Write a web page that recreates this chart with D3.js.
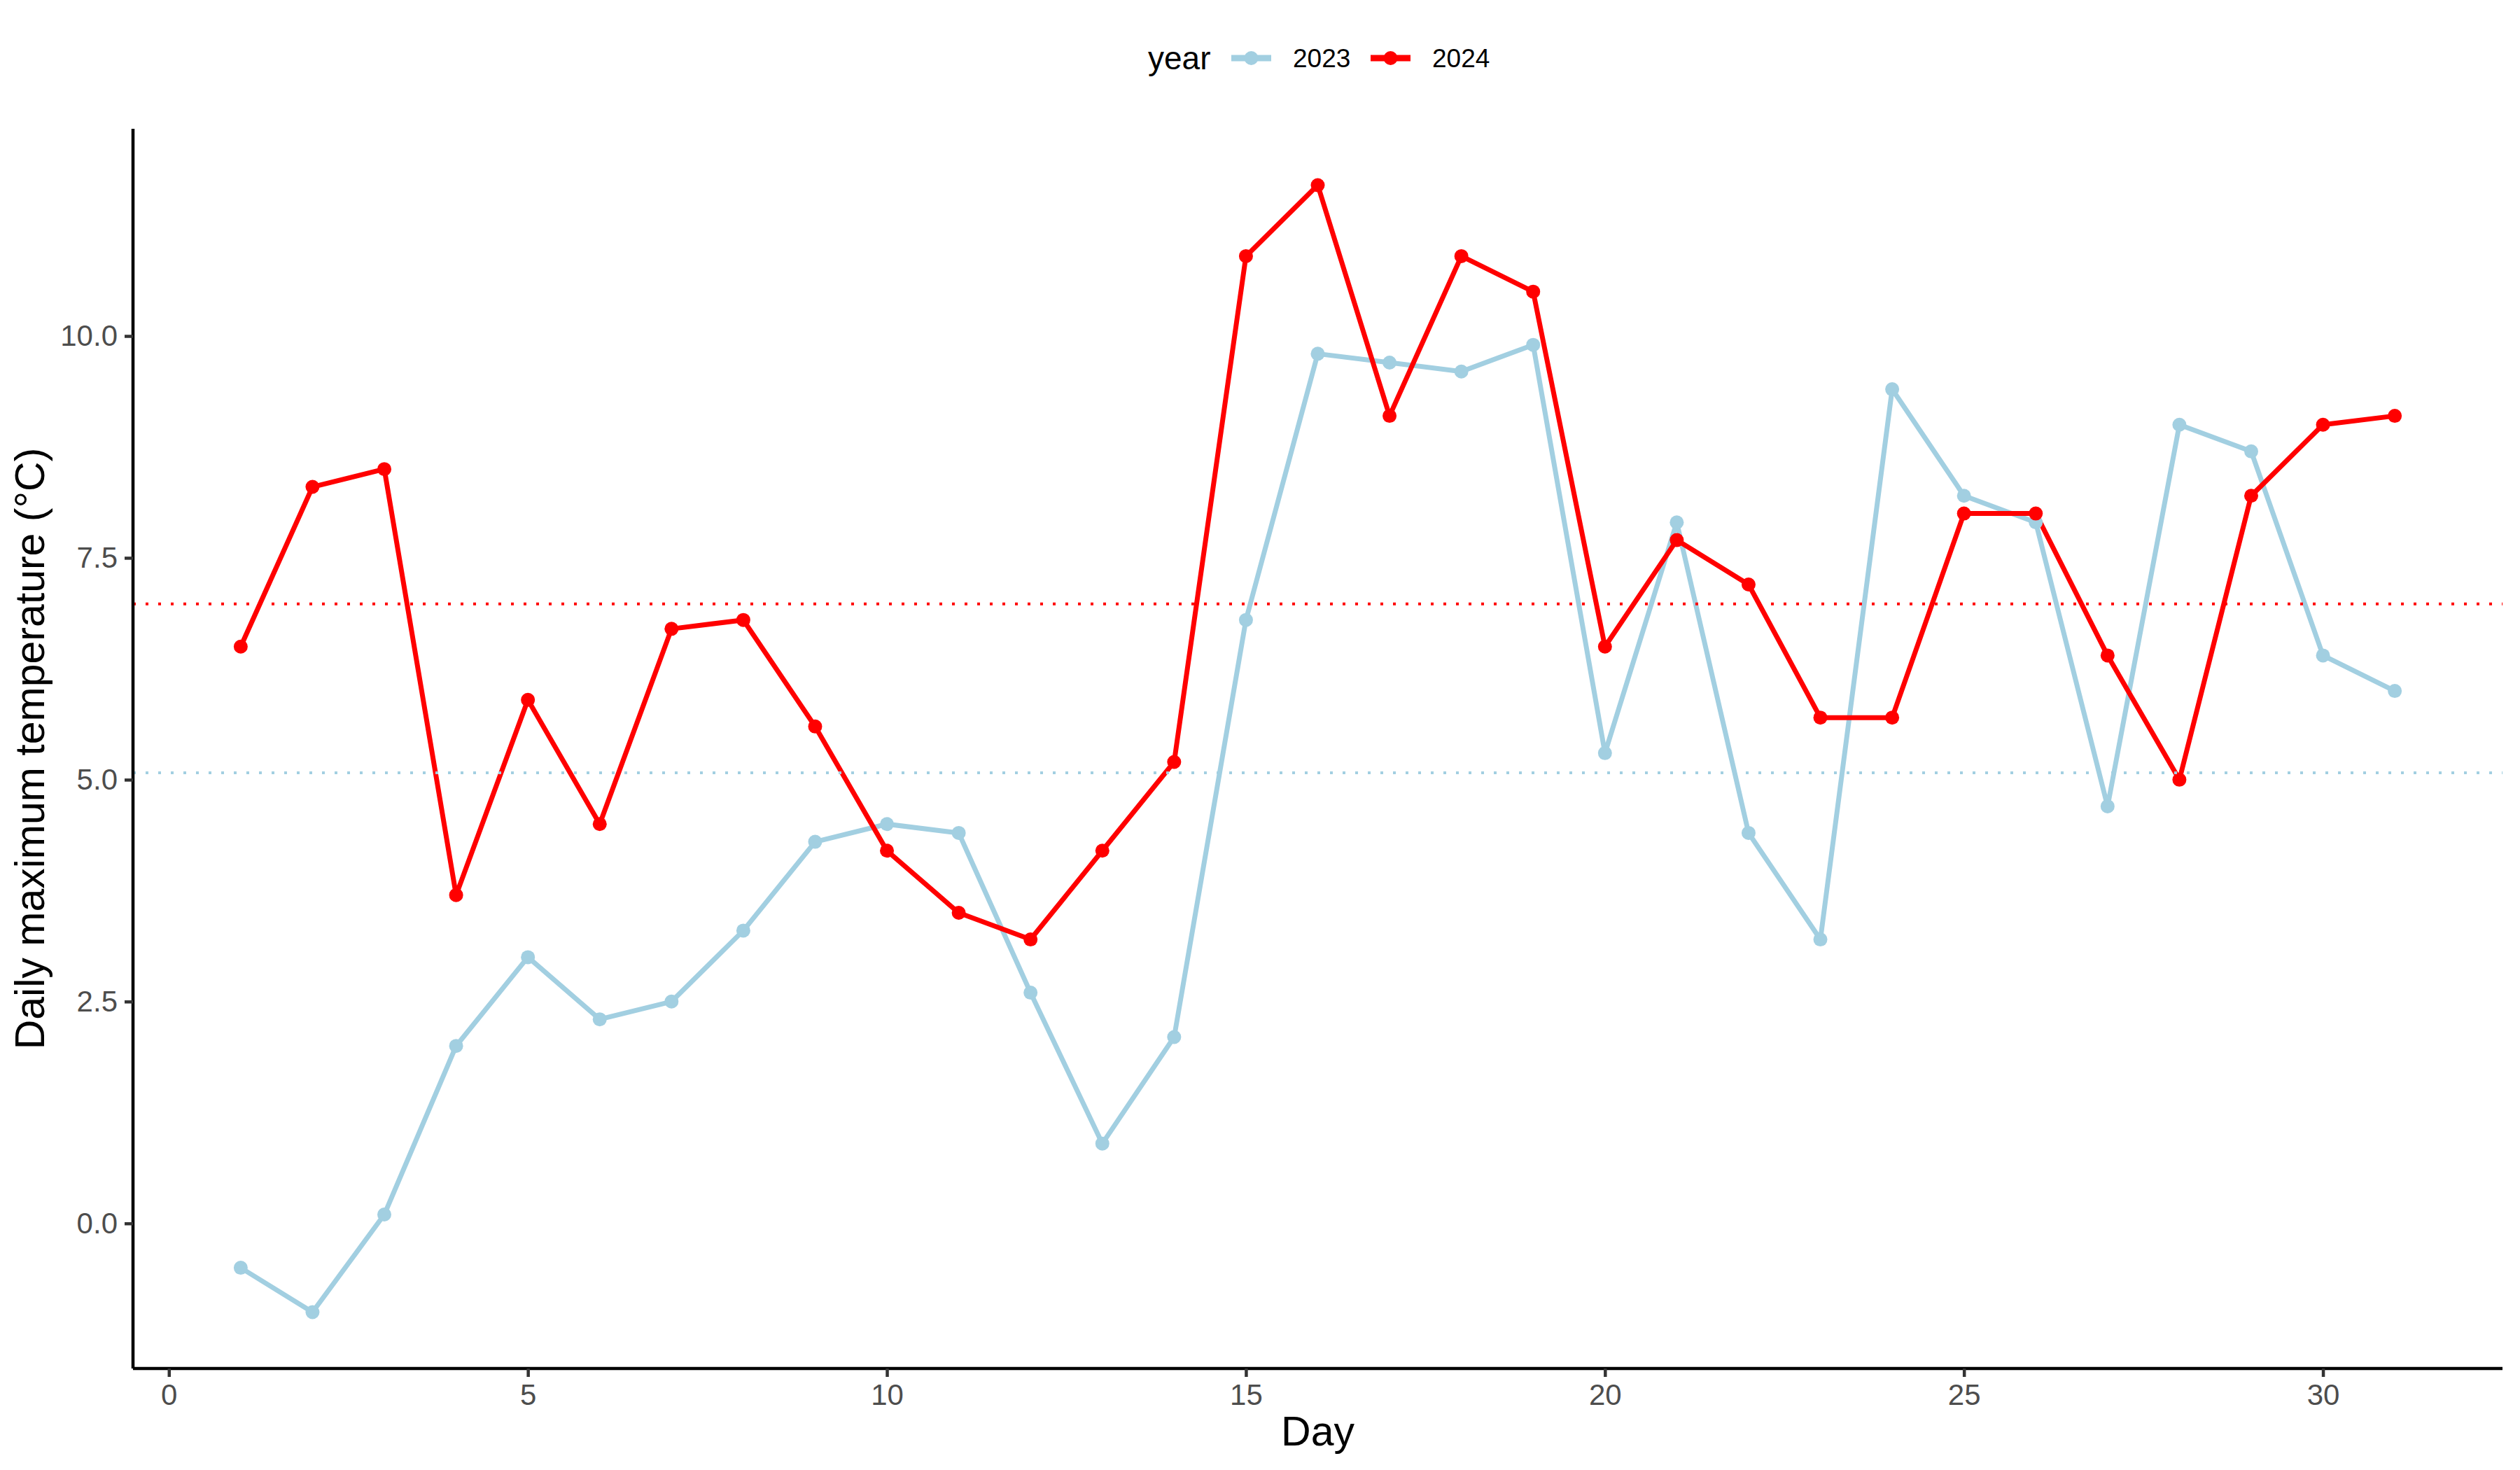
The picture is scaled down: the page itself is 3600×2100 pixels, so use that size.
<!DOCTYPE html>
<html>
<head>
<meta charset="utf-8">
<script src="https://cdn.jsdelivr.net/npm/d3@7"></script>
<style>
  body { margin: 0; background: #fff; }
  text { font-family: "Liberation Sans", Arial, sans-serif; }
</style>
</head>
<body>
<div id="chart"></div>
<script>
const width = 3600;
const height = 2100;

// data
const days = d3.range(1, 32);
const years = ["2023", "2024"];
const temp2023 = [-0.5, -1.0, 0.1, 2.0, 3.0, 2.3, 2.5, 3.3, 4.3, 4.5, 4.4, 2.6, 0.9, 2.1, 6.8,
                  9.8, 9.7, 9.6, 9.9, 5.3, 7.9, 4.4, 3.2, 9.4, 8.2, 7.9, 4.7, 9.0, 8.7, 6.4, 6.0];
const temp2024 = [6.5, 8.3, 8.5, 3.7, 5.9, 4.5, 6.7, 6.8, 5.6, 4.2, 3.5, 3.2, 4.2, 5.2, 10.9,
                  11.7, 9.1, 10.9, 10.5, 6.5, 7.7, 7.2, 5.7, 5.7, 8.0, 8.0, 6.4, 5.0, 8.2, 9.0, 9.1];
const xTicks = [0, 5, 10, 15, 20, 25, 30];
const yTicks = [0, 2.5, 5, 7.5, 10];
const colors = {"2023": "#a2cfe1", "2024": "#ff0000"};

const series = years.map((y, i) => ({
    year: y,
    values: days.map((d, j) => ({day: d, temp: [temp2023, temp2024][i][j]}))
}));

const margin = {top: 184, right: 25, bottom: 145, left: 190};

const svg = d3.select("#chart").append("svg")
    .attr("width", width)
    .attr("height", height);

// ggplot-style 5% expansion of the data ranges
const yExt = d3.extent(temp2023.concat(temp2024));
const yPad = (yExt[1] - yExt[0]) * 0.05;
const xPad = (d3.max(days) - d3.min(days)) * 0.05;

const x = d3.scaleLinear()
    .domain([d3.min(days) - xPad, d3.max(days) + xPad])
    .range([margin.left, width - margin.right]);
const y = d3.scaleLinear()
    .domain([yExt[0] - yPad, yExt[1] + yPad])
    .range([height - margin.bottom, margin.top]);

const line = d3.line().x(d => x(d.day)).y(d => y(d.temp));

// lines
svg.append("g")
  .selectAll("path")
  .data(series)
  .join("path")
    .attr("fill", "none")
    .attr("stroke", d => colors[d.year])
    .attr("stroke-width", 7)
    .attr("stroke-linejoin", "round")
    .attr("d", d => line(d.values));

// points
svg.append("g")
  .selectAll("g")
  .data(series)
  .join("g")
    .attr("fill", d => colors[d.year])
  .selectAll("circle")
  .data(d => d.values)
  .join("circle")
    .attr("cx", d => x(d.day))
    .attr("cy", d => y(d.temp))
    .attr("r", 10);

// mean lines
svg.append("g")
  .selectAll("line")
  .data(series)
  .join("line")
    .attr("x1", x.range()[0])
    .attr("x2", x.range()[1])
    .attr("y1", d => y(d3.mean(d.values, v => v.temp)))
    .attr("y2", d => y(d3.mean(d.values, v => v.temp)))
    .attr("stroke", d => colors[d.year])
    .attr("stroke-width", 4)
    .attr("stroke-dasharray", "4,14");

// axes
const xAxis = svg.append("g")
    .attr("transform", `translate(0,${height - margin.bottom})`)
    .call(d3.axisBottom(x).tickValues(xTicks).tickSize(12).tickPadding(10).tickFormat(d3.format("d")));
const yAxis = svg.append("g")
    .attr("transform", `translate(${margin.left},0)`)
    .call(d3.axisLeft(y).tickValues(yTicks).tickSize(12).tickPadding(10).tickFormat(d3.format(".1f")));

[xAxis, yAxis].forEach(a => {
    a.select(".domain").attr("stroke", "#000").attr("stroke-width", 4.5);
    a.selectAll(".tick line").attr("stroke", "#333").attr("stroke-width", 4.5);
    a.selectAll(".tick text")
        .attr("fill", "#4d4d4d")
        .style("font-size", "42px")
        .style("font-family", "'Liberation Sans', Arial, sans-serif");
});
// d3 domain path has outer ticks; redraw plain
xAxis.select(".domain").attr("d", `M${x.range()[0]},0H${x.range()[1]}`);
yAxis.select(".domain").attr("d", `M0,${y.range()[0]}V${y.range()[1]}`);

// axis titles
svg.append("text")
    .attr("x", (x.range()[0] + x.range()[1]) / 2)
    .attr("y", 2065)
    .attr("text-anchor", "middle")
    .style("font-size", "59px")
    .text("Day");

svg.append("text")
    .attr("transform", `translate(63,${(y.range()[0] + y.range()[1]) / 2}) rotate(-90)`)
    .attr("text-anchor", "middle")
    .style("font-size", "59px")
    .text("Daily maximum temperature (°C)");

// legend
const legY = 83;
const legend = svg.append("g");
legend.append("text")
    .attr("x", 1640)
    .attr("y", legY)
    .attr("dy", "0.35em")
    .style("font-size", "46px")
    .text("year");

const keyX = [1759, 1958];
const item = legend.selectAll("g.item")
  .data(years)
  .join("g")
    .attr("class", "item")
    .attr("transform", (d, i) => `translate(${keyX[i]},${legY})`);
item.append("line")
    .attr("x1", 0).attr("x2", 57)
    .attr("stroke", d => colors[d])
    .attr("stroke-width", 9);
item.append("circle")
    .attr("cx", 28.5)
    .attr("r", 10)
    .attr("fill", d => colors[d]);
item.append("text")
    .attr("x", 88)
    .attr("dy", "0.35em")
    .style("font-size", "37px")
    .text(d => d);
</script>
</body>
</html>
